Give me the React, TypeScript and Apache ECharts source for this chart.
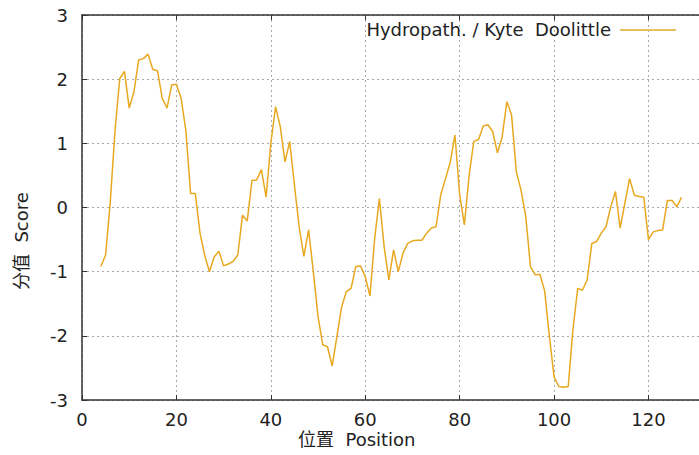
import React, { useEffect, useRef } from "react";
import * as echarts from "echarts";

const positions: number[] = [];
for (let p = 4; p <= 127; p++) positions.push(p);

const scores: number[] = [
  -0.92, -0.74, 0.1, 1.2, 2.01, 2.12, 1.55, 1.8, 2.3, 2.32,
  2.39, 2.15, 2.13, 1.7, 1.55, 1.91, 1.92, 1.7, 1.2, 0.22,
  0.22, -0.4, -0.75, -1.0, -0.77, -0.68, -0.91, -0.88, -0.84, -0.74,
  -0.12, -0.21, 0.42, 0.43, 0.59, 0.16, 1.0, 1.57, 1.26, 0.71,
  1.03, 0.35, -0.3, -0.76, -0.35, -1.0, -1.7, -2.14, -2.17, -2.47,
  -2.01, -1.55, -1.31, -1.26, -0.92, -0.91, -1.08, -1.38, -0.48, 0.14,
  -0.61, -1.13, -0.66, -1.0, -0.71, -0.56, -0.52, -0.51, -0.51, -0.4,
  -0.32, -0.3, 0.2, 0.45, 0.7, 1.13, 0.2, -0.27, 0.5, 1.03,
  1.06, 1.27, 1.29, 1.18, 0.85, 1.1, 1.65, 1.44, 0.56, 0.27,
  -0.14, -0.92, -1.05, -1.04, -1.3, -2.0, -2.64, -2.79, -2.8, -2.79,
  -1.9, -1.26, -1.29, -1.13, -0.56, -0.53, -0.4, -0.3, 0.01, 0.25,
  -0.32, 0.07, 0.45, 0.19, 0.17, 0.16, -0.5, -0.38, -0.36, -0.35,
  0.11, 0.11, 0.01, 0.16,
];

const xTicks = [0, 20, 40, 60, 80, 100, 120];
const yTicks = [-3, -2, -1, 0, 1, 2, 3];

const seriesName = "Hydropath. / Kyte  Doolittle";
const xTitle = "位置  Position";
const yTitle = "分值  Score";

export default function App() {
  const ref = useRef<HTMLDivElement>(null);
  useEffect(() => {
    document.body.style.margin = "0";
    const chart = echarts.init(ref.current!, null, { renderer: "svg" });
    const font = "DejaVu Sans, 'Noto Sans CJK SC', sans-serif";
    const axisColor = "#333";
    const data = positions.map((p, i) => [p, scores[i]]);
    chart.setOption({
      animation: false,
      backgroundColor: "#fff",
      textStyle: { fontFamily: font },
      grid: { left: 82, right: 0, top: 15, bottom: 55, containLabel: false },
      legend: {
        show: true,
        right: 18,
        top: 16,
        align: "right",
        icon: "rect",
        itemWidth: 56,
        itemHeight: 2,
        itemGap: 10,
        textStyle: { fontSize: 18, color: "#222", fontFamily: font, padding: [0, 4, 0, 0] },
        data: [seriesName],
      },
      xAxis: [
        {
          type: "value",
          min: 0,
          max: 130.7,
          interval: 20,
          axisLine: { show: true, onZero: false, lineStyle: { color: axisColor, width: 1.5 } },
          axisTick: { show: true, inside: true, length: 5, lineStyle: { color: axisColor } },
          axisLabel: {
            showMaxLabel: false,
            fontSize: 18,
            color: "#222",
            margin: 10,
            fontFamily: font,
            formatter: (v: number) => (xTicks.includes(v) ? String(v) : ""),
          },
          splitLine: { show: true, lineStyle: { color: "#aaa", type: [2, 3], width: 1 } },
        },
        {
          type: "value",
          position: "top",
          min: 0,
          max: 130.7,
          interval: 20,
          axisLine: { show: true, onZero: false, lineStyle: { color: axisColor, width: 1.5 } },
          axisTick: { show: true, inside: true, length: 5, lineStyle: { color: axisColor } },
          axisLabel: { show: false },
          splitLine: { show: false },
        },
      ],
      yAxis: {
        type: "value",
        min: -3,
        max: 3,
        interval: 1,
        axisLine: { show: true, onZero: false, lineStyle: { color: axisColor, width: 1.5 } },
        axisTick: { show: true, inside: true, length: 5, lineStyle: { color: axisColor } },
        axisLabel: {
          fontSize: 18,
          color: "#222",
          margin: 14,
          fontFamily: font,
          formatter: (v: number) => (yTicks.includes(v) ? String(v) : ""),
        },
        splitLine: { show: true, lineStyle: { color: "#aaa", type: [2, 3], width: 1 } },
      },
      graphic: [
        {
          type: "text",
          left: 298,
          top: 430,
          style: { text: xTitle, fontSize: 18, fill: "#222", fontFamily: font },
        },
        {
          type: "text",
          x: 12,
          y: 290,
          rotation: Math.PI / 2,
          style: { text: yTitle, fontSize: 18, fill: "#222", fontFamily: font },
        },
      ],
      series: [
        {
          name: seriesName,
          type: "line",
          xAxisIndex: 0,
          data,
          showSymbol: false,
          symbol: "none",
          lineStyle: { color: "#e8a820", width: 1.5 },
          itemStyle: { color: "#e8c060" },
        },
      ],
    });
    return () => chart.dispose();
  }, []);
  return <div ref={ref} style={{ width: 699, height: 455 }} />;
}
